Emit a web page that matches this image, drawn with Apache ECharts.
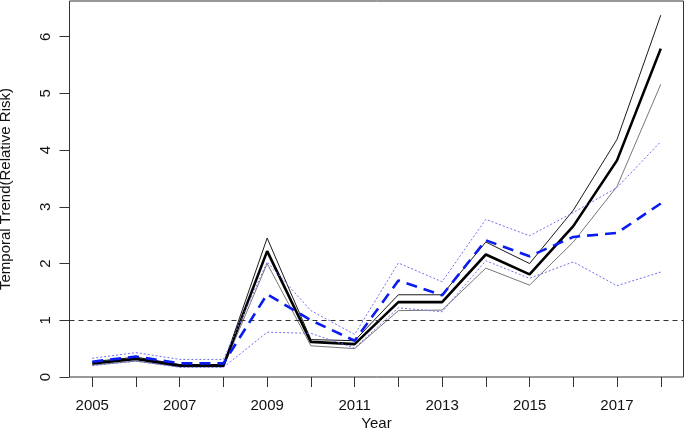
<!DOCTYPE html>
<html>
<head>
<meta charset="utf-8">
<script src="https://cdn.jsdelivr.net/npm/echarts@6/dist/echarts.min.js"></script>
<style>
html,body{margin:0;padding:0;background:#fff;}
#chart{width:685px;height:429px;}
</style>
</head>
<body>
<div id="chart"></div>
<script>
const years = [2005,2006,2007,2008,2009,2010,2011,2012,2013,2014,2015,2016,2017,2018];
const xLabelYears = [2005,2007,2009,2011,2013,2015,2017];
const yTicks = [0,1,2,3,4,5,6];

// black: posterior mean and bounds
const rrMean  = [0.24,0.32,0.20,0.20,2.22,0.62,0.58,1.32,1.32,2.16,1.81,2.66,3.82,5.79];
const rrUpper = [0.27,0.35,0.22,0.22,2.45,0.66,0.64,1.45,1.45,2.38,2.00,2.94,4.19,6.38];
const rrLower = [0.21,0.28,0.18,0.18,2.00,0.55,0.50,1.17,1.18,1.92,1.62,2.38,3.36,5.16];
// blue: alternative estimate and bounds
const altMean  = [0.27,0.36,0.24,0.24,1.46,1.00,0.64,1.70,1.44,2.41,2.13,2.47,2.54,3.06];
const altUpper = [0.33,0.43,0.31,0.31,2.03,1.17,0.75,2.01,1.68,2.78,2.49,2.90,3.34,4.15];
const altLower = [0.20,0.28,0.17,0.17,0.79,0.77,0.51,1.22,1.15,2.05,1.74,2.03,1.61,1.85];

const pts = arr => years.map((y,i)=>[y, arr[i]]);
const FONT = "'Liberation Sans', Arial, sans-serif";

function line(data, color, width, type, z){
  return {type:'line', data: pts(data), symbol:'none', silent:true, z:z||2,
    lineStyle:{color:color, width:width, type:type}};
}

const chart = echarts.init(document.getElementById('chart'), null, {renderer:'canvas'});
const series = [
  line(rrUpper, '#1a1a1a', 1, 'solid', 2),
  line(rrLower, '#777777', 1, 'solid', 2),
  line(rrMean, '#000000', 2.6, 'solid', 3),
  line(altUpper, '#7070f0', 1, [2,2], 4),
  line(altLower, '#7070f0', 1, [2,2], 4),
  line(altMean, '#0a1cf0', 2.6, [11,7], 5)
];
series[2].markLine = {silent:true, symbol:'none', label:{show:false},
  lineStyle:{color:'#333', width:1, type:[5,4]}, data:[{yAxis:1}]};

chart.setOption({
  animation:false,
  backgroundColor:'#fff',
  grid:{left:69.5, right:1.5, top:1, bottom:52, show:true, borderColor:'#333', borderWidth:1,
    backgroundColor:'transparent', containLabel:false, outerBoundsMode:'none'},
  xAxis:{type:'value', min:2004.48, max:2018.52,
    name:'Year', nameLocation:'middle', nameGap:39, nameMoveOverlap:false,
    nameTextStyle:{fontFamily:FONT, fontSize:15, color:'#111'},
    axisLine:{show:false},
    splitLine:{show:false},
    axisTick:{show:true, length:10, inside:false, lineStyle:{color:'#333'}, customValues:years},
    axisLabel:{fontFamily:FONT, fontSize:15, color:'#111', margin:21, customValues:xLabelYears, formatter: v => String(v)}
  },
  yAxis:{type:'value', min:0, max:6.63,
    name:'Temporal Trend(Relative Risk)', nameLocation:'middle', nameGap:56, nameRotate:90, nameMoveOverlap:false,
    nameTextStyle:{fontFamily:FONT, fontSize:15, color:'#111'},
    axisLine:{show:false},
    splitLine:{show:false},
    axisTick:{show:true, length:10, lineStyle:{color:'#333'}, customValues:yTicks},
    axisLabel:{fontFamily:FONT, fontSize:15, color:'#111', rotate:90, margin:16, customValues:yTicks}
  },
  series: series
});
</script>
</body>
</html>
